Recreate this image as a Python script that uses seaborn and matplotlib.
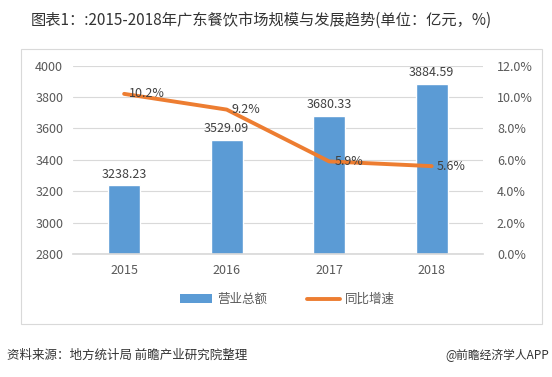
import matplotlib
matplotlib.use("Agg")
import matplotlib.pyplot as plt
import seaborn as sns
import pandas as pd
from matplotlib.patches import Rectangle
from matplotlib.lines import Line2D
from matplotlib.patches import Patch

years = ["2015", "2016", "2017", "2018"]
revenue = [3238.23, 3529.09, 3680.33, 3884.59]
growth = [10.2, 9.2, 5.9, 5.6]
left_ticks = [2800, 3000, 3200, 3400, 3600, 3800, 4000]
right_ticks = [0, 2, 4, 6, 8, 10, 12]

sns.set_theme(style="white")
plt.rcParams['font.family'] = ['Noto Sans CJK SC', 'DejaVu Sans']

df = pd.DataFrame({"year": years, "revenue": revenue, "growth": growth})

fig = plt.figure(figsize=(5.52, 3.77), dpi=100)
ax = fig.add_axes([0.132, 0.326, 0.743, 0.50])

sns.barplot(data=df, x="year", y="revenue", color="#5B9BD5", width=0.31,
            saturation=1, ax=ax, zorder=2)
ax.set_ylim(2800, 4000)
ax.set_yticks(left_ticks)
ax.set_yticklabels([str(t) for t in left_ticks])
ax.set_xlim(-0.5, 3.5)
ax.grid(axis="y", color="#D9D9D9", linewidth=0.8, zorder=0)
ax.set_xlabel("")
ax.set_ylabel("")
for s in ax.spines.values():
    s.set_visible(False)
ax.spines["bottom"].set_visible(True)
ax.spines["bottom"].set_color("#D9D9D9")
ax.tick_params(axis="both", length=0, labelsize=9, colors="#595959", pad=7)

for i, v in enumerate(revenue):
    ax.text(i, v + 30, f"{v:.2f}", ha="center", va="bottom", fontsize=9, color="#404040")

ax2 = ax.twinx()
sns.lineplot(x=list(range(len(years))), y=growth, color="#ED7D31", linewidth=2.8,
             ax=ax2, zorder=3)
ax2.set_ylim(0, 12)
ax2.set_yticks(right_ticks)
ax2.set_yticklabels([f"{t:.1f}%" for t in right_ticks])
for s in ax2.spines.values():
    s.set_visible(False)
ax2.tick_params(axis="y", length=0, labelsize=9, colors="#595959", pad=10)
ax2.set_ylabel("")
for i, g in enumerate(growth):
    ax2.text(i + 0.05, g, f"{g:.1f}%", ha="left", va="center", fontsize=9, color="#404040")

handles = [Patch(facecolor="#5B9BD5", edgecolor="none"),
           Line2D([0], [0], color="#ED7D31", linewidth=2.8)]
fig.legend(handles, ["营业总额", "同比增速"], loc="center", bbox_to_anchor=(0.52, 0.205),
           ncol=2, frameon=False, fontsize=9, handlelength=2.6, columnspacing=3.2,
           handletextpad=0.4, labelcolor="#595959")

fig.text(0.055, 0.945, "图表1：:2015-2018年广东餐饮市场规模与发展趋势(单位：亿元，%)",
         ha="left", va="center", fontsize=11, color="#333333")
fig.add_artist(Rectangle((0.038, 0.14), 0.944, 0.73, transform=fig.transFigure,
                         fill=False, edgecolor="#D9D9D9", linewidth=0.8))
fig.text(0.012, 0.058, "资料来源：地方统计局 前瞻产业研究院整理", ha="left", va="center",
         fontsize=9, style="italic", color="#333333")
fig.text(0.995, 0.058, "@前瞻经济学人APP", ha="right", va="center", fontsize=8.5, color="#333333")

fig.savefig("out.png", dpi=100)
